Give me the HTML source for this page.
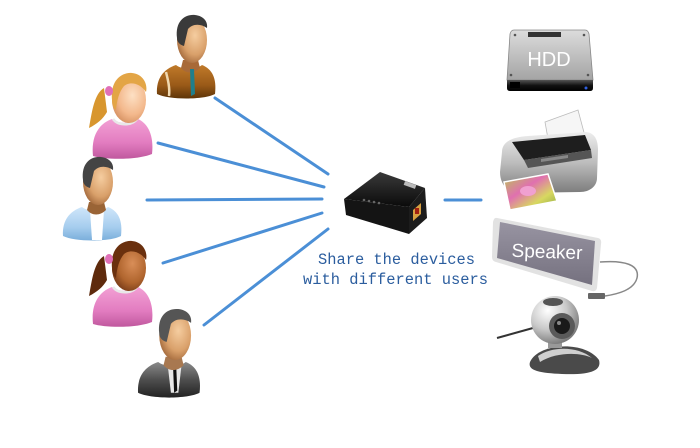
<!DOCTYPE html>
<html><head><meta charset="utf-8"><style>
html,body{margin:0;padding:0;background:#fff;}
svg{display:block;}
</style></head><body>
<svg width="700" height="448" viewBox="0 0 700 448" xmlns="http://www.w3.org/2000/svg">
<defs>
<radialGradient id="skin" cx="0.6" cy="0.4" r="0.7"><stop offset="0" stop-color="#f5cda0"/><stop offset="0.6" stop-color="#d9a06a"/><stop offset="1" stop-color="#9a6034"/></radialGradient>
<radialGradient id="skinP" cx="0.6" cy="0.4" r="0.7"><stop offset="0" stop-color="#fde0c4"/><stop offset="0.6" stop-color="#f3b88c"/><stop offset="1" stop-color="#d08a5a"/></radialGradient>
<radialGradient id="skinD" cx="0.6" cy="0.4" r="0.7"><stop offset="0" stop-color="#d98e58"/><stop offset="0.6" stop-color="#b0652e"/><stop offset="1" stop-color="#6e3414"/></radialGradient>
<linearGradient id="brown" x1="0" y1="0" x2="0" y2="1"><stop offset="0" stop-color="#c07a2a"/><stop offset="0.6" stop-color="#9a5a18"/><stop offset="1" stop-color="#5e3408"/></linearGradient>
<linearGradient id="pink" x1="0" y1="0" x2="0" y2="1"><stop offset="0" stop-color="#f2a0d4"/><stop offset="0.6" stop-color="#e27cc0"/><stop offset="1" stop-color="#c0589e"/></linearGradient>
<linearGradient id="blue" x1="0" y1="0" x2="0" y2="1"><stop offset="0" stop-color="#cfe6fa"/><stop offset="0.6" stop-color="#a6cdee"/><stop offset="1" stop-color="#7aaedb"/></linearGradient>
<linearGradient id="gray" x1="0" y1="0" x2="0" y2="1"><stop offset="0" stop-color="#8a8a8a"/><stop offset="0.5" stop-color="#4e4e4e"/><stop offset="1" stop-color="#222"/></linearGradient>
<linearGradient id="hddTop" x1="0" y1="0" x2="0" y2="1"><stop offset="0" stop-color="#dcdcdc"/><stop offset="1" stop-color="#a4a4a4"/></linearGradient>
<linearGradient id="hddBot" x1="0" y1="0" x2="0" y2="1"><stop offset="0" stop-color="#555"/><stop offset="0.5" stop-color="#111"/><stop offset="1" stop-color="#000"/></linearGradient>
<linearGradient id="silver" x1="0" y1="0" x2="0" y2="1"><stop offset="0" stop-color="#eeeeee"/><stop offset="0.5" stop-color="#bdbdbd"/><stop offset="1" stop-color="#7c7c7c"/></linearGradient>
<linearGradient id="spk" x1="0" y1="0" x2="0" y2="1"><stop offset="0" stop-color="#9894a2"/><stop offset="1" stop-color="#75717f"/></linearGradient>
<radialGradient id="ball" cx="0.35" cy="0.3" r="0.8"><stop offset="0" stop-color="#ffffff"/><stop offset="0.5" stop-color="#c8c8c8"/><stop offset="1" stop-color="#6a6a6a"/></radialGradient>
<linearGradient id="box" x1="0" y1="0" x2="0" y2="1"><stop offset="0" stop-color="#3a3a3a"/><stop offset="1" stop-color="#0a0a0a"/></linearGradient>
<linearGradient id="photo" x1="0" y1="0" x2="1" y2="1"><stop offset="0" stop-color="#b8c850"/><stop offset="0.4" stop-color="#e070b0"/><stop offset="0.7" stop-color="#d8d860"/><stop offset="1" stop-color="#8aa840"/></linearGradient>
</defs>

<!-- connector lines -->
<g stroke="#4b8fd6" stroke-width="3" stroke-linecap="round" fill="none">
<line x1="215" y1="98" x2="328" y2="174"/>
<line x1="158" y1="143" x2="324" y2="187"/>
<line x1="147" y1="200" x2="322" y2="199"/>
<line x1="163" y1="263" x2="322" y2="213"/>
<line x1="204" y1="325" x2="328" y2="229"/>
<line x1="445" y1="200" x2="481" y2="200"/>
</g>

<!-- Top man (brown suit) -->
<g transform="translate(156,14)">
<path d="M1,80 C0,64 8,55 20,51 C26,56 40,56 46,51 C56,55 61,64 59,80 C48,86 13,86 1,80Z" fill="url(#brown)"/>
<path d="M10,58 C12,66 14,74 13,82" stroke="#f0d8b0" stroke-width="2.5" fill="none"/>
<path d="M27,46 L42,46 L44,54 C38,60 30,60 25,54Z" fill="#a86a38"/>
<path d="M34,55 L38,55 L39,80 L35,82 Z" fill="#1f7f8c"/>
<ellipse cx="36" cy="26" rx="15" ry="23" fill="url(#skin)"/>
<path d="M21,24 C19,7 29,0 39,1 C48,2 52,8 51,14 C44,9 36,10 32,15 L28,32 C24,31 21,28 21,24Z" fill="#3a3a3a"/>
</g>

<!-- Blonde girl -->
<g transform="translate(88,72)">
<path d="M16,16 C6,22 4,40 1,56 C9,52 15,47 19,40 Z" fill="#d8962e"/>
<path d="M5,84 C3,65 10,52 24,47 C30,52 44,52 50,47 C61,52 66,65 64,82 C50,88 18,88 5,84Z" fill="url(#pink)"/>
<path d="M25,47 C30,54 44,54 49,47" stroke="#e8e8e8" stroke-width="2.5" fill="none"/>
<ellipse cx="41" cy="28" rx="17" ry="23" fill="url(#skinP)"/>
<path d="M24,28 C22,8 34,0 44,1 C55,2 60,12 58,20 C52,11 42,9 36,14 C31,20 29,28 28,38 C25,36 24,32 24,28Z" fill="#e3a546"/>
<ellipse cx="21" cy="19" rx="4" ry="5" fill="#e070b8"/>
</g>

<!-- Blue man -->
<g transform="translate(62,156)">
<path d="M1,80 C0,64 8,55 20,51 C26,56 40,56 46,51 C56,55 61,64 59,80 C48,86 13,86 1,80Z" fill="url(#blue)"/>
<path d="M28,54 L42,54 L40,84 L30,84 Z" fill="#ffffff"/>
<path d="M27,46 L42,46 L44,54 C38,60 30,60 25,54Z" fill="#9a6436"/>
<ellipse cx="36" cy="26" rx="15" ry="23" fill="url(#skin)"/>
<path d="M21,24 C19,7 29,0 39,1 C48,2 52,8 51,14 C44,9 36,10 32,15 L28,32 C24,31 21,28 21,24Z" fill="#444"/>
</g>

<!-- Brown girl -->
<g transform="translate(88,240)">
<path d="M16,16 C6,22 4,40 1,56 C9,52 15,47 19,40 Z" fill="#5e2a0c"/>
<path d="M5,84 C3,65 10,52 24,47 C30,52 44,52 50,47 C61,52 66,65 64,82 C50,88 18,88 5,84Z" fill="url(#pink)"/>
<path d="M25,47 C30,54 44,54 49,47" stroke="#e8e8e8" stroke-width="2.5" fill="none"/>
<ellipse cx="41" cy="28" rx="17" ry="23" fill="url(#skinD)"/>
<path d="M24,28 C22,8 34,0 44,1 C55,2 60,12 58,20 C52,11 42,9 36,14 C31,20 29,28 28,38 C25,36 24,32 24,28Z" fill="#6a300e"/>
<ellipse cx="21" cy="19" rx="4" ry="5" fill="#e070b8"/>
</g>

<!-- Gray man -->
<g transform="translate(137,308) scale(1.06)">
<path d="M1,80 C0,64 8,55 20,51 C26,56 40,56 46,51 C56,55 61,64 59,80 C48,86 13,86 1,80Z" fill="url(#gray)"/>
<path d="M29,54 L42,54 L39,80 L32,80 Z" fill="#e8e8e8"/>
<path d="M34,55 L37,55 L38,78 L35,80 Z" fill="#111"/>
<path d="M27,46 L42,46 L44,54 C38,60 30,60 25,54Z" fill="#a87850"/>
<ellipse cx="36" cy="26" rx="15" ry="23" fill="url(#skin)"/>
<path d="M21,24 C19,7 29,0 39,1 C48,2 52,8 51,14 C44,9 36,10 32,15 L28,32 C24,31 21,28 21,24Z" fill="#555"/>
</g>

<!-- Central device box -->
<g>
<path d="M344,199 L380,172 L425,188 L409,207 Z" fill="url(#box)"/>
<path d="M344,199 L409,207 L409,234 L346,215 Z" fill="#141414"/>
<path d="M409,207 L425,188 L427,218 L409,234 Z" fill="#1c1c1c"/>
<rect x="404" y="183" width="12" height="4" fill="#bbb" transform="rotate(20 410 185)"/>
<g fill="#666"><circle cx="364" cy="200" r="1.3"/><circle cx="369" cy="201" r="1.3"/><circle cx="374" cy="202" r="1.3"/><circle cx="379" cy="203" r="1.3"/></g>
<path d="M413,210 L421,203 L421,214 L413,221Z" fill="#d8a040"/>
<rect x="415" y="208" width="4" height="6" fill="#a02010"/>
</g>

<!-- Caption -->
<g font-family="'Liberation Mono', monospace" font-size="15.5" fill="#2b5d9e">
<text x="318" y="264" textLength="157" lengthAdjust="spacingAndGlyphs">Share the devices</text>
<text x="303" y="284" textLength="185" lengthAdjust="spacingAndGlyphs">with different users</text>
</g>

<!-- HDD -->
<g>
<path d="M514,30 L585,30 Q588,30 589,34 L593,80 L507,80 L510,34 Q511,30 514,30Z" fill="url(#hddTop)" stroke="#888" stroke-width="0.8"/>
<rect x="528" y="32" width="33" height="5" fill="#333"/>
<circle cx="515" cy="35" r="1.3" fill="#555"/><circle cx="584" cy="35" r="1.3" fill="#555"/>
<circle cx="511" cy="75" r="1.3" fill="#555"/><circle cx="588" cy="75" r="1.3" fill="#555"/>
<path d="M507,80 L593,80 L593,88 Q593,91 590,91 L510,91 Q507,91 507,88Z" fill="url(#hddBot)"/>
<rect x="510" y="82" width="10" height="6" fill="#000"/>
<circle cx="586" cy="88" r="1.5" fill="#3060e0"/>
<text x="549" y="66" font-family="'Liberation Sans', sans-serif" font-size="20" fill="#fff" text-anchor="middle">HDD</text>
</g>

<!-- Printer -->
<g>
<path d="M545,122 L578,110 L586,140 L550,150 Z" fill="#f6f6f6" stroke="#bbb" stroke-width="0.8"/>
<path d="M502,152 C502,142 512,137 528,136 L586,132 C595,133 598,140 598,150 L597,178 C597,186 590,192 580,192 L516,193 C506,191 500,183 500,172 Z" fill="url(#silver)"/>
<path d="M512,142 L585,135 L591,150 L524,160 Z" fill="#1e1e1e"/>
<path d="M524,160 L591,150 L592,158 L528,168 Z" fill="#555"/>
<path d="M541,159 L568,155 L568,158 L541,162 Z" fill="#888"/>
<path d="M504,182 L548,174 L557,201 L510,210 Z" fill="url(#photo)" stroke="#fff" stroke-width="1.5"/>
<ellipse cx="528" cy="191" rx="8" ry="5" fill="#f0a0d0"/>
</g>

<!-- Speaker -->
<g>
<path d="M497,218 L598,238 Q602,239 601,244 L597,288 Q596,292 592,291 L496,262 Q492,261 492,257 L493,222 Q494,217 497,218Z" fill="#e2e2e2"/>
<path d="M500,222 L595,241 L592,285 L497,258 Z" fill="url(#spk)"/>
<text x="547" y="258" font-family="'Liberation Sans', sans-serif" font-size="19" fill="#fff" text-anchor="middle" transform="rotate(2 547 252)">Speaker</text>
<path d="M600,262 C625,260 640,265 637,278 C634,290 618,294 605,296" stroke="#888" stroke-width="1.5" fill="none"/>
<rect x="588" y="293" width="17" height="6" rx="1" fill="#666"/>
</g>

<!-- Webcam -->
<g>
<line x1="497" y1="338" x2="533" y2="328" stroke="#333" stroke-width="2"/>
<path d="M530,362 C538,343 585,340 599,360 C602,371 590,375 562,374 C541,373 527,371 530,362Z" fill="#4a4a4a"/>
<path d="M538,356 C552,346 578,346 592,358 C580,352 556,352 540,362Z" fill="#cfcfcf"/>
<rect x="548" y="338" width="14" height="10" fill="#999"/>
<circle cx="555" cy="320" r="24" fill="url(#ball)"/>
<ellipse cx="553" cy="302" rx="10" ry="4" fill="#555"/>
<circle cx="562" cy="326" r="13" fill="#5a5a5a"/>
<circle cx="562" cy="326" r="8" fill="#1a1a1a"/>
<circle cx="559" cy="323" r="2" fill="#888"/>
</g>
</svg>
</body></html>
